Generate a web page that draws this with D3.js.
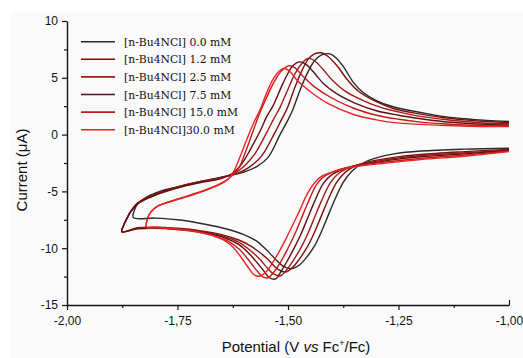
<!DOCTYPE html>
<html>
<head>
<meta charset="utf-8">
<script src="https://cdn.jsdelivr.net/npm/d3@7"></script>
<style>
  body { margin: 0; background: #fff; }
  svg { display: block; }
</style>
</head>
<body>
<script>
const W = 523, H = 358;
const plot = {left: 67, right: 509, top: 21, bottom: 305};

// legend labels, one per scan
const labels = ['[n-Bu4NCl] 0.0 mM', '[n-Bu4NCl] 1.2 mM', '[n-Bu4NCl] 2.5 mM',
                '[n-Bu4NCl] 7.5 mM', '[n-Bu4NCl] 15.0 mM', '[n-Bu4NCl]30.0 mM'];
const colors = ['#2a2a2a', '#800d0d', '#a11b1b', '#5e0f0f', '#c41a1a', '#ec2222'];

// [potential (V vs Fc+/Fc), current (uA)], cathodic sweep then return
const cv00 = [[-1.00,-1.2],[-1.10,-1.28],[-1.20,-1.45],[-1.26,-1.7],[-1.30,-2.05],[-1.33,-2.5],[-1.355,-3.2],
  [-1.375,-4.2],[-1.395,-5.8],[-1.41,-7.2],[-1.425,-8.6],[-1.44,-9.8],[-1.46,-10.9],[-1.475,-11.5],[-1.492,-11.8],
  [-1.51,-11.6],[-1.53,-10.9],[-1.55,-10.1],[-1.57,-9.4],[-1.60,-8.8],[-1.65,-8.2],[-1.70,-7.8],[-1.75,-7.5],
  [-1.80,-7.35],[-1.85,-7.3],
  [-1.848,-6.7],[-1.84,-6.1],[-1.82,-5.5],[-1.79,-5.0],[-1.75,-4.6],[-1.70,-4.15],[-1.65,-3.75],[-1.60,-3.3],
  [-1.57,-2.8],[-1.545,-2.0],[-1.518,0.0],[-1.50,1.3],[-1.488,2.3],[-1.472,4.0],[-1.455,5.5],[-1.44,6.5],
  [-1.425,7.0],[-1.405,7.1],[-1.39,6.7],[-1.375,6.0],[-1.352,4.6],[-1.33,3.7],[-1.30,3.0],[-1.262,2.45],
  [-1.20,1.95],[-1.15,1.6],[-1.10,1.4],[-1.05,1.25],[-1.00,1.15]];
const cv12 = [[-1.00,-1.3],[-1.10,-1.5],[-1.20,-1.75],[-1.26,-2.0],[-1.30,-2.25],[-1.34,-2.65],[-1.37,-3.3],
  [-1.39,-4.2],[-1.41,-5.8],[-1.425,-7.2],[-1.44,-8.6],[-1.455,-9.8],[-1.475,-11.0],[-1.49,-11.7],[-1.506,-12.1],
  [-1.525,-11.8],[-1.545,-11.0],[-1.563,-10.4],[-1.585,-9.8],[-1.61,-9.3],[-1.65,-8.8],[-1.70,-8.45],[-1.75,-8.25],
  [-1.80,-8.15],[-1.84,-8.2],[-1.876,-8.55],
  [-1.872,-8.0],[-1.865,-7.4],[-1.855,-6.7],[-1.84,-6.0],[-1.81,-5.4],[-1.775,-4.9],[-1.74,-4.5],[-1.70,-4.15],
  [-1.65,-3.75],[-1.61,-3.35],[-1.585,-2.8],[-1.56,-1.9],[-1.532,0.0],[-1.515,1.3],[-1.502,2.3],[-1.486,4.0],
  [-1.47,5.5],[-1.455,6.6],[-1.44,7.1],[-1.425,7.2],[-1.41,6.9],[-1.39,6.1],[-1.365,4.8],[-1.34,3.8],[-1.30,2.9],
  [-1.262,2.3],[-1.20,1.8],[-1.15,1.5],[-1.10,1.3],[-1.05,1.15],[-1.00,1.05]];
const cv25 = [[-1.00,-1.35],[-1.10,-1.6],[-1.20,-1.85],[-1.26,-2.1],[-1.30,-2.35],[-1.35,-2.75],[-1.385,-3.4],
  [-1.405,-4.3],[-1.425,-5.9],[-1.44,-7.3],[-1.455,-8.7],[-1.47,-9.9],[-1.49,-11.2],[-1.505,-12.0],[-1.518,-12.45],
  [-1.535,-12.2],[-1.55,-11.6],[-1.563,-11.0],[-1.585,-10.2],[-1.61,-9.5],[-1.65,-8.9],[-1.70,-8.5],[-1.75,-8.3],
  [-1.80,-8.2],[-1.84,-8.25],[-1.876,-8.55],
  [-1.872,-8.0],[-1.865,-7.4],[-1.855,-6.7],[-1.84,-6.05],[-1.81,-5.45],[-1.775,-4.95],[-1.74,-4.55],[-1.70,-4.2],
  [-1.65,-3.8],[-1.62,-3.4],[-1.60,-2.8],[-1.575,-1.7],[-1.548,0.2],[-1.532,1.4],[-1.518,2.4],[-1.50,4.0],
  [-1.485,5.3],[-1.47,6.2],[-1.455,6.7],[-1.44,6.5],[-1.42,5.7],[-1.40,4.8],[-1.37,3.8],[-1.33,3.0],[-1.29,2.4],
  [-1.25,2.0],[-1.20,1.6],[-1.15,1.35],[-1.10,1.15],[-1.05,1.0],[-1.00,0.95]];
const cv75 = [[-1.00,-1.4],[-1.10,-1.7],[-1.20,-1.95],[-1.26,-2.2],[-1.30,-2.45],[-1.36,-2.85],[-1.40,-3.5],
  [-1.42,-4.3],[-1.44,-5.9],[-1.455,-7.3],[-1.47,-8.7],[-1.485,-9.9],[-1.50,-11.0],[-1.515,-12.0],[-1.528,-12.7],
  [-1.542,-12.6],[-1.553,-12.1],[-1.563,-11.6],[-1.585,-10.6],[-1.61,-9.7],[-1.65,-9.0],[-1.70,-8.55],[-1.75,-8.35],
  [-1.80,-8.25],[-1.84,-8.3],[-1.876,-8.55],
  [-1.872,-8.0],[-1.865,-7.45],[-1.855,-6.75],[-1.84,-6.1],[-1.81,-5.5],[-1.775,-5.0],[-1.74,-4.6],[-1.70,-4.25],
  [-1.65,-3.85],[-1.625,-3.4],[-1.605,-2.6],[-1.585,-1.3],[-1.562,0.4],[-1.548,1.6],[-1.533,2.6],[-1.515,4.2],
  [-1.50,5.4],[-1.488,6.1],[-1.475,6.4],[-1.46,6.2],[-1.44,5.4],[-1.42,4.5],[-1.39,3.6],[-1.35,2.8],[-1.30,2.1],
  [-1.25,1.7],[-1.20,1.4],[-1.15,1.15],[-1.10,1.0],[-1.05,0.9],[-1.00,0.85]];
const cv150 = [[-1.00,-1.45],[-1.10,-1.8],[-1.20,-2.1],[-1.30,-2.5],[-1.36,-2.85],[-1.40,-3.3],[-1.425,-3.9],
  [-1.437,-4.5],[-1.455,-6.0],[-1.47,-7.4],[-1.485,-8.8],[-1.50,-10.0],[-1.515,-11.1],[-1.53,-12.0],[-1.545,-12.6],
  [-1.558,-12.5],[-1.57,-12.0],[-1.59,-11.0],[-1.61,-10.1],[-1.635,-9.4],[-1.67,-8.9],[-1.70,-8.6],[-1.75,-8.35],
  [-1.80,-8.2],[-1.82,-8.2],
  [-1.817,-7.3],[-1.81,-6.8],[-1.795,-6.3],[-1.775,-6.0],[-1.74,-5.55],[-1.70,-5.05],[-1.66,-4.45],[-1.635,-3.9],
  [-1.612,-3.0],[-1.597,-1.6],[-1.58,0.2],[-1.565,1.8],[-1.548,3.3],[-1.532,4.6],[-1.515,5.6],[-1.498,6.05],
  [-1.485,5.9],[-1.465,5.1],[-1.44,4.2],[-1.40,3.2],[-1.35,2.3],[-1.30,1.7],[-1.25,1.35],[-1.20,1.1],[-1.15,0.95],
  [-1.10,0.85],[-1.00,0.78]];
const cv300 = [[-1.00,-1.5],[-1.10,-1.9],[-1.20,-2.2],[-1.30,-2.6],[-1.36,-2.9],[-1.40,-3.3],[-1.425,-3.7],
  [-1.445,-4.5],[-1.46,-5.5],[-1.475,-6.8],[-1.49,-8.0],[-1.505,-9.2],[-1.52,-10.3],[-1.535,-11.3],[-1.55,-12.1],
  [-1.563,-12.45],[-1.575,-12.4],[-1.59,-11.7],[-1.61,-10.6],[-1.63,-9.7],[-1.66,-9.0],[-1.70,-8.6],[-1.75,-8.3],
  [-1.80,-8.15],[-1.82,-8.15],
  [-1.817,-7.3],[-1.81,-6.8],[-1.795,-6.3],[-1.775,-6.0],[-1.74,-5.6],[-1.70,-5.1],[-1.66,-4.5],[-1.635,-3.9],
  [-1.622,-3.2],[-1.608,-1.9],[-1.593,-0.4],[-1.578,1.0],[-1.563,2.2],[-1.548,3.7],[-1.532,5.0],[-1.515,5.75],
  [-1.505,5.8],[-1.492,5.4],[-1.48,4.8],[-1.45,3.8],[-1.41,2.75],[-1.35,1.75],[-1.30,1.3],[-1.26,1.05],
  [-1.20,0.9],[-1.11,0.76],[-1.00,0.7]];
const scans = [cv00, cv12, cv25, cv75, cv150, cv300];

const xMajor = [-2, -1.75, -1.5, -1.25, -1];
const xMinor = [-1.875, -1.625, -1.375, -1.125];
const yMajor = [-15, -10, -5, 0, 5, 10];
const yMinor = [-12.5, -7.5, -2.5, 2.5, 7.5];

const svg = d3.select('body').append('svg')
    .attr('width', W)
    .attr('height', H)
    .style('font-family', '"Liberation Sans", Arial, sans-serif');

svg.append('rect')
    .attr('x', 10).attr('y', 12)
    .attr('width', W - 10).attr('height', H - 12)
    .attr('fill', '#fafafa');

const x = d3.scaleLinear().domain([-2, -1]).range([plot.left, plot.right]);
const y = d3.scaleLinear().domain([-15, 10]).range([plot.bottom, plot.top]);

const comma = d3.formatLocale({decimal: ',', thousands: '.', grouping: [3], currency: ['', ''], minus: '-'});

// curves
const line = d3.line()
    .x(d => x(d[0]))
    .y(d => y(d[1]))
    .curve(d3.curveCatmullRom.alpha(0.5));

svg.append('g')
    .selectAll('path')
    .data(scans)
    .join('path')
    .attr('d', line)
    .attr('fill', 'none')
    .attr('stroke', (d, i) => colors[i])
    .attr('stroke-width', 1.4)
    .attr('stroke-linejoin', 'round');

// axes
const xAxis = svg.append('g')
    .attr('transform', `translate(0,${plot.bottom})`)
    .call(d3.axisBottom(x).tickValues(xMajor).tickSize(5).tickSizeOuter(0).tickPadding(6)
        .tickFormat(comma.format('.2f')));
// the last tick of the original points up into the plot
xAxis.selectAll('.tick').filter(d => d === -1).select('line').attr('y2', -5);
svg.append('g')
    .attr('transform', `translate(0,${plot.bottom})`)
    .call(d3.axisBottom(x).tickValues(xMinor).tickSize(3).tickFormat(''))
    .call(g => g.select('.domain').remove());

svg.append('g')
    .attr('transform', `translate(${plot.left},0)`)
    .call(d3.axisLeft(y).tickValues(yMajor).tickSize(5).tickSizeOuter(0).tickPadding(4)
        .tickFormat(comma.format('d')));
svg.append('g')
    .attr('transform', `translate(${plot.left},0)`)
    .call(d3.axisLeft(y).tickValues(yMinor).tickSize(3).tickFormat(''))
    .call(g => g.select('.domain').remove());

svg.selectAll('.domain').attr('stroke', '#111').attr('stroke-width', 1.4);
svg.selectAll('.tick line').attr('stroke', '#111').attr('stroke-width', 1.2);
svg.selectAll('.tick text').attr('font-size', 12).attr('fill', '#111')
    .attr('font-family', '"Liberation Sans", Arial, sans-serif');

// axis titles
svg.append('text')
    .attr('transform', `translate(27,${(plot.top + plot.bottom) / 2 + 7}) rotate(-90)`)
    .attr('text-anchor', 'middle')
    .attr('font-size', 15)
    .attr('fill', '#111')
    .text('Current (μA)');

const xt = svg.append('text')
    .attr('x', 296)
    .attr('y', 352)
    .attr('text-anchor', 'middle')
    .attr('font-size', 15)
    .attr('fill', '#111');
xt.append('tspan').text('Potential (V  ');
xt.append('tspan').attr('font-style', 'italic').text('vs');
xt.append('tspan').text(' Fc');
xt.append('tspan').attr('font-size', 9).attr('dy', -6).text('+');
xt.append('tspan').attr('dy', 6).text('/Fc)');

// legend
const legend = svg.append('g')
    .selectAll('g')
    .data(labels)
    .join('g')
    .attr('transform', (d, i) => `translate(81,${41.7 + i * 17.6})`);
legend.append('line')
    .attr('x1', 0).attr('x2', 34)
    .attr('stroke', (d, i) => colors[i])
    .attr('stroke-width', 1.6);
legend.append('text')
    .attr('x', 43)
    .attr('y', 4)
    .attr('font-family', '"DejaVu Serif", serif')
    .attr('font-size', 10.8)
    .attr('fill', '#111')
    .text(d => d);
</script>
</body>
</html>
